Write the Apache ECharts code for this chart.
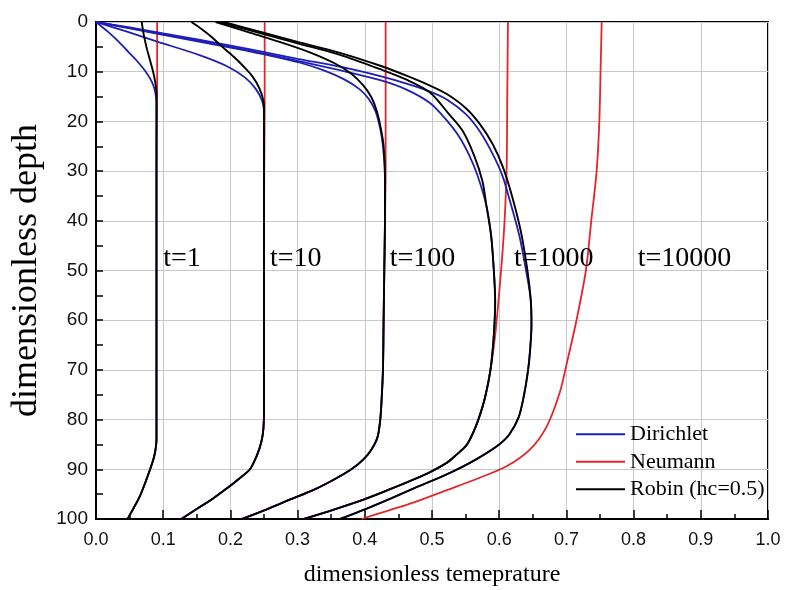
<!DOCTYPE html>
<html>
<head>
<meta charset="utf-8">
<script src="https://cdn.jsdelivr.net/npm/echarts@6/dist/echarts.min.js"></script>
<style>
  html, body { margin: 0; padding: 0; background: #fff; }
  #chart { width: 785px; height: 590px; }
</style>
</head>
<body>
<div id="chart"></div>
<script>
// [dimensionless temperature, dimensionless depth]
// t = 1
var dir1Top = [[0,0],[0.018,2],[0.034,4],[0.048,6],[0.062,8],[0.074,10],[0.083,12],[0.088,14],[0.09,16.4]]
var rob1Top = [[0.068,0],[0.071,2.5],[0.075,5],[0.08,7.5],[0.085,10],[0.088,12],[0.09,14.5],[0.09,16.4]]
var neu1Top = [[0.091,0],[0.091,16.4]]
var deep1 = [[0.09,16.4],[0.09,30],[0.09,50],[0.09,70],[0.09,84],[0.088,86.5],[0.085,88.2],[0.08,90.2],[0.073,92.8],[0.065,95.5],[0.056,97.8],[0.047,100]]
// t = 10
var dir10Top = [[0,0],[0.045,1.9],[0.09,3.9],[0.155,6.7],[0.195,8.9],[0.222,11.2],[0.238,13.5],[0.247,15.8],[0.25,18]]
var rob10Top = [[0.142,0],[0.155,1.2],[0.172,3],[0.188,5],[0.205,7],[0.22,9],[0.233,11],[0.243,13.3],[0.249,15.8],[0.25,18]]
var neu10Top = [[0.251,0],[0.251,18]]
var deep10 = [[0.25,18],[0.25,40],[0.25,60],[0.25,78],[0.249,82],[0.246,84.5],[0.24,87],[0.229,90],[0.212,92],[0.196,93.7],[0.175,95.8],[0.152,97.8],[0.127,100]]
// t = 100
var dir100Top = [[0,0],[0.05,1.3],[0.1,2.6],[0.155,4],[0.21,5.4],[0.26,6.8],[0.304,8.2],[0.34,9.8],[0.37,11.6],[0.392,13.5],[0.406,15.5],[0.416,18],[0.423,21.5],[0.427,25],[0.43,31]]
var rob100Top = [[0.178,0],[0.23,2.2],[0.28,4.3],[0.32,6.2],[0.355,8.3],[0.38,10.4],[0.398,12.8],[0.41,15.2],[0.418,18],[0.424,21.5],[0.428,25],[0.43,31]]
var neu100Top = [[0.431,0],[0.431,31]]
var deep100 = [[0.43,31],[0.43,40],[0.429,50],[0.428,60],[0.427,70],[0.425,76],[0.423,80],[0.419,83.5],[0.41,86],[0.398,88],[0.38,90],[0.355,92],[0.323,94.2],[0.29,96],[0.255,98],[0.217,100]]
// t = 1000
var dir1000Top = [[0,0],[0.05,1.2],[0.1,2.5],[0.155,3.8],[0.23,5.8],[0.3,7.8],[0.363,9.7],[0.423,11.7],[0.462,13.6],[0.497,16.3],[0.52,19.5],[0.54,23],[0.556,27],[0.568,31],[0.581,37]]
var rob1000Top = [[0.183,0],[0.24,2.1],[0.3,4.3],[0.363,6.6],[0.423,9.5],[0.462,11.6],[0.497,14.2],[0.525,18.5],[0.546,22],[0.563,27],[0.575,32],[0.581,37]]
var neu1000Top = [[0.613,0],[0.612,15],[0.611,30],[0.608,40],[0.604,48],[0.599,56],[0.594,63]]
var deep1000 = [[0.581,37],[0.588,43],[0.592,50],[0.594,56],[0.592,63],[0.587,70],[0.579,75.5],[0.569,80],[0.56,83],[0.551,85.2],[0.537,87],[0.522,88.7],[0.498,90.5],[0.472,92.1],[0.436,94.1],[0.398,96.1],[0.354,98.1],[0.309,100]]
// t = 10000
var dir10000Top = [[0,0],[0.05,1.1],[0.1,2.3],[0.155,3.6],[0.23,5.5],[0.3,7.4],[0.363,9],[0.423,10.9],[0.462,12.4],[0.497,14],[0.522,15.6],[0.55,18.5],[0.571,22],[0.59,26.5],[0.605,31],[0.616,36],[0.63,43],[0.64,50],[0.647,56]]
var rob10000Top = [[0.19,0],[0.245,2],[0.3,4],[0.363,6.2],[0.423,8.8],[0.462,10.8],[0.497,12.8],[0.522,14.5],[0.55,17.3],[0.571,20.5],[0.59,24.5],[0.605,29],[0.618,34.5],[0.632,42],[0.642,50],[0.647,56]]
var deep10000 = [[0.647,56],[0.648,61],[0.646,66],[0.643,70],[0.637,75],[0.629,79.5],[0.615,83],[0.6,85],[0.578,87],[0.555,88.8],[0.53,90.5],[0.502,92.2],[0.472,93.9],[0.44,95.8],[0.403,97.9],[0.363,100]]
var neu10000 = [[0.7525,0],[0.751,9],[0.749,20],[0.745,30],[0.737,40],[0.729,50],[0.715,60],[0.7,69],[0.69,74.6],[0.671,81.3],[0.646,86],[0.611,89.4],[0.571,91.7],[0.522,94.2],[0.472,96.7],[0.435,98.3],[0.395,100]]

// curve labels
var timeLabels = ['t=1', 't=10', 't=100', 't=1000', 't=10000']
var labelPos = [[0.1,47.6],[0.259,47.6],[0.437,47.6],[0.622,47.6],[0.806,47.6]]

var BLUE = '#1f1fb8', RED = '#e3262b', BLACK = '#000'
var DIR = 'Dirichlet', NEU = 'Neumann', ROB = 'Robin (hc=0.5)'

function curve(name, color, width, data) {
    return {
        name: name, type: 'line', data: data, symbol: 'none', smooth: 0.3,
        color: color, itemStyle: { color: color },
        lineStyle: { color: color, width: width }
    }
}

var series = [
    // Neumann first so it sits underneath
    curve(NEU, RED, 1.8, neu1Top.concat(deep1)),
    curve(NEU, RED, 1.8, neu10Top.concat(deep10)),
    curve(NEU, RED, 1.8, neu100Top.concat(deep100)),
    curve(NEU, RED, 1.8, neu1000Top.concat(deep1000.filter(function (p) { return p[1] >= 70 }))),
    curve(NEU, RED, 1.8, neu10000),
    curve(DIR, BLUE, 1.8, dir1Top.concat(deep1)),
    curve(DIR, BLUE, 1.8, dir10Top.concat(deep10)),
    curve(DIR, BLUE, 1.8, dir100Top.concat(deep100)),
    curve(DIR, BLUE, 1.8, dir1000Top.concat(deep1000)),
    curve(DIR, BLUE, 1.8, dir10000Top.concat(deep10000)),
    curve(ROB, BLACK, 1.9, rob1Top.concat(deep1)),
    curve(ROB, BLACK, 1.9, rob10Top.concat(deep10)),
    curve(ROB, BLACK, 1.9, rob100Top.concat(deep100)),
    curve(ROB, BLACK, 1.9, rob1000Top.concat(deep1000)),
    curve(ROB, BLACK, 1.9, rob10000Top.concat(deep10000)),
    {
        name: 'labels', type: 'scatter', symbolSize: 0,
        itemStyle: { color: '#000' },
        data: timeLabels.map(function (t, i) { return { name: t, value: labelPos[i] } }),
        label: {
            show: true, position: 'right', distance: 0, opacity: 1,
            formatter: '{b}', fontFamily: 'Liberation Serif', fontSize: 28, color: '#000'
        },
        z: 5
    }
]

var chart = echarts.init(document.getElementById('chart'))
chart.setOption({
    animation: false,
    backgroundColor: '#fff',
    grid: {
        left: 96, right: 17, top: 22, bottom: 71, containLabel: false, outerBoundsMode: 'none',
        show: true, borderColor: '#000', borderWidth: 2
    },
    legend: {
        data: [DIR, NEU, ROB],
        orient: 'vertical', left: 571, top: 418,
        icon: 'rect', itemWidth: 49, itemHeight: 2, itemGap: 5,
        textStyle: { fontFamily: 'Liberation Serif', fontSize: 22, lineHeight: 22.5, color: '#000' }
    },
    xAxis: {
        type: 'value', min: 0, max: 1, interval: 0.1,
        name: 'dimensionless temeprature', nameLocation: 'middle', nameGap: 44,
        nameTextStyle: { fontFamily: 'Liberation Serif', fontSize: 24, color: '#000' },
        axisLine: { onZero: false, lineStyle: { color: '#000', width: 2 } },
        axisTick: { inside: true, length: 9, lineStyle: { color: '#000', width: 1.5 } },
        minorTick: { show: true, splitNumber: 2, length: 5, lineStyle: { color: '#000', width: 1.5 } },
        splitLine: { show: true, lineStyle: { color: '#c8c8c8', width: 1 } },
        axisLabel: {
            margin: 12, fontFamily: 'Liberation Sans', fontSize: 18, color: '#111',
            formatter: function (v) { return v.toFixed(1) }
        }
    },
    yAxis: {
        type: 'value', min: 0, max: 100, interval: 10, inverse: true,
        name: 'dimensionless depth', nameLocation: 'middle', nameGap: 51,
        nameTextStyle: { fontFamily: 'Liberation Serif', fontSize: 36, color: '#000' },
        axisLine: { onZero: false, lineStyle: { color: '#000', width: 2 } },
        axisTick: { inside: true, length: 7, lineStyle: { color: '#000', width: 1.5 } },
        minorTick: { show: true, splitNumber: 2, length: 7, lineStyle: { color: '#000', width: 1.5 } },
        splitLine: { show: true, lineStyle: { color: '#c8c8c8', width: 1 } },
        axisLabel: { margin: 8, fontFamily: 'Liberation Sans', fontSize: 19, color: '#111' }
    },
    series: series
})
</script>
</body>
</html>
